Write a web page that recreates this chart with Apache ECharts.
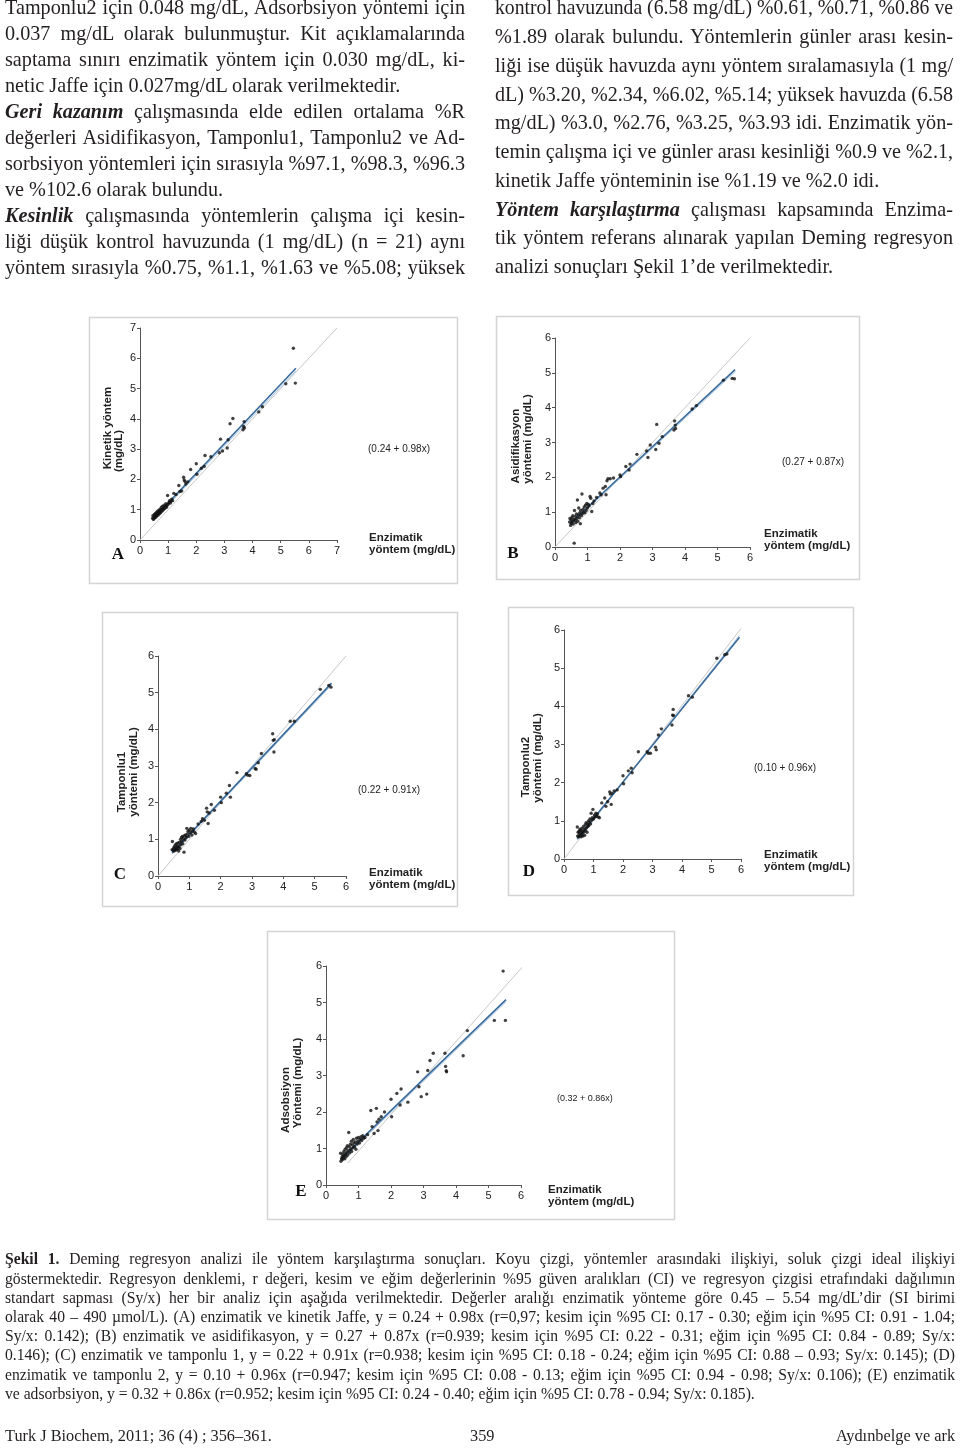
<!DOCTYPE html>
<html><head><meta charset="utf-8">
<script src="https://cdn.jsdelivr.net/npm/echarts@6/dist/echarts.min.js"></script>
<style>
html,body{margin:0;padding:0;background:#fff;}
#chart{position:absolute;left:0;top:0;width:960px;height:1448px;}
#txt{position:absolute;left:0;top:0;width:960px;height:1448px;pointer-events:none;}
.ln{position:absolute;white-space:nowrap;font-family:"Liberation Serif","Times New Roman",serif;color:#231f20;transform-origin:0 0;}
</style></head><body>
<div id="chart"></div>
<div id="txt"></div>
<script>
// ---------- DATA ----------
// Enzimatik yöntem (reference, x) values shared by all panels
const enz = [0.45,0.46,0.48,0.50,0.51,0.52,0.54,0.55,0.56,0.58,0.59,0.60,0.62,0.63,0.64,0.66,0.67,0.69,0.70,0.72,0.73,0.75,0.76,0.78,0.79,0.81,0.83,0.84,0.86,0.88,0.90,0.92,0.94,0.96,0.98,1.00,1.03,1.05,1.08,1.10,1.13,1.16,1.20,
  1.28,1.38,1.42,1.48,1.55,1.57,1.60,1.63,1.70,1.80,2.00,2.02,2.18,2.28,2.31,2.52,2.82,2.86,2.93,3.10,3.13,3.20,3.30,3.66,3.68,3.70,3.71,4.22,4.35,5.18,5.45,5.52];
// A: Kinetik yöntem
const kinetik = [0.72,0.80,0.68,0.76,0.84,0.73,0.79,0.88,0.75,0.83,0.92,0.80,0.86,0.95,0.82,0.90,0.98,0.87,0.94,1.02,0.90,0.97,1.08,0.95,1.02,1.12,1.00,1.06,1.15,1.04,1.10,1.20,1.08,1.14,1.47,1.18,1.24,1.30,1.22,1.28,1.35,1.30,1.54,
  1.50,1.80,1.60,1.62,2.07,1.98,1.93,1.85,1.92,2.33,2.52,2.17,2.37,2.43,2.79,2.75,2.88,3.33,2.94,3.04,3.31,3.84,4.01,3.64,3.75,3.91,3.70,4.23,4.40,5.16,6.33,5.18];
// B: Asidifikasyon yöntemi
const asidifikasyon = [0.72,0.82,0.62,0.78,0.68,0.85,0.74,0.90,0.66,0.80,0.11,1.05,0.76,0.88,0.70,0.95,0.82,1.35,0.74,0.92,1.12,0.84,0.98,0.67,1.05,0.90,1.52,0.95,1.08,1.00,1.15,0.98,1.20,1.05,1.25,1.12,1.22,1.18,1.45,1.40,1.02,1.25,1.32,
  1.42,1.55,1.50,1.69,1.74,1.50,1.90,1.96,1.96,1.98,2.07,2.02,2.31,2.21,2.38,2.66,2.76,2.57,2.93,2.80,3.52,2.98,3.17,3.36,3.62,3.50,3.40,3.96,4.06,4.79,4.84,4.83];
// C: Tamponlu1 yöntemi
const tamponlu1 = [0.72,0.94,0.70,0.76,0.68,0.80,0.73,0.85,0.70,0.78,0.88,0.72,0.82,0.75,0.90,0.68,0.80,0.92,0.75,1.00,0.85,1.05,0.95,1.08,0.88,1.02,0.65,1.10,0.98,1.12,1.05,1.30,1.15,1.22,1.08,1.25,1.18,1.30,1.12,1.22,1.28,1.20,1.16,
  1.42,1.49,1.56,1.52,1.85,1.75,1.43,1.72,1.95,1.79,2.15,2.00,2.26,2.47,2.15,2.82,2.79,2.75,2.74,2.93,2.91,3.09,3.34,3.88,3.70,3.38,3.72,4.22,4.22,5.09,5.20,5.15];
// D: Tamponlu2 yöntemi
const tamponlu2 = [0.84,0.60,0.70,0.58,0.72,0.65,0.78,0.62,0.74,0.58,0.68,0.80,0.64,0.72,0.60,0.85,0.70,0.78,0.62,0.90,0.75,0.95,0.82,0.70,0.92,0.85,1.00,0.88,0.96,1.05,0.92,1.20,1.02,1.08,1.30,1.05,1.15,1.10,1.20,1.12,1.18,1.10,1.08,
  1.47,1.60,1.38,1.50,1.76,1.70,1.43,1.72,1.78,1.81,2.18,1.97,2.31,2.38,2.26,2.81,2.81,2.77,2.77,2.93,2.86,3.25,3.41,3.51,3.77,3.92,3.76,4.28,4.24,5.26,5.35,5.37];
// E: Adsorbsiyon yöntemi
const adsorbsiyon = [0.87,0.65,0.72,0.78,0.70,0.85,0.75,0.92,0.80,0.72,0.98,0.85,0.78,1.02,0.90,1.08,0.82,0.95,1.44,1.05,0.88,1.12,0.98,1.20,0.92,1.10,1.02,1.25,1.15,1.05,1.18,0.98,1.28,1.12,1.20,1.30,1.15,1.25,1.32,1.22,1.35,1.28,1.30,
  1.38,2.04,1.60,1.41,2.10,1.73,1.49,1.80,1.87,2.00,2.35,1.87,2.51,2.19,2.63,2.27,3.10,2.69,2.42,2.49,3.14,3.41,3.61,3.61,3.25,3.13,3.10,3.54,4.23,4.51,5.86,4.51];
// Deming regression lines (dark), CI lines (light) and ideal lines (grey)
const regA = [[0.45,0.68],[5.54,5.67]], ciA = [[0.45,0.62],[5.54,5.58]], idealA = [[0,0],[7,7]];
const regB = [[0.45,0.66],[5.54,5.09]], ciB = [[0.45,0.63],[5.54,5.03]], idealB = [[0,0],[6,6]];
const regC = [[0.45,0.63],[5.54,5.26]], ciC = [[0.45,0.60],[5.54,5.21]], idealC = [[0,0],[6,6]];
const regD = [[0.45,0.53],[5.95,5.81]], ciD = [[0.45,0.50],[5.95,5.86]], idealD = [[0,0],[6,6.04]];
const regE = [[0.45,0.71],[5.54,5.08]], ciE = [[0.45,0.66],[5.54,5.02]], idealE = [[0.67,0.6],[6.67,6.6]];
const axisMax = [7,6,6,6,6];
const equations = ['(0.24 + 0.98x)','(0.27 + 0.87x)','(0.22 + 0.91x)','(0.10 + 0.96x)','(0.32 + 0.86x)'];
const panelLetters = ['A','B','C','D','E'];
const yNames = [['Kinetik yöntem','(mg/dL)'],['Asidifikasyon','yöntemi (mg/dL)'],['Tamponlu1','yöntemi (mg/dL)'],['Tamponlu2','yöntemi (mg/dL)'],['Adsobsiyon','Yöntemi (mg/dL)']];
const xName = ['Enzimatik','yöntem (mg/dL)'];

// ---------- LAYOUT ----------
const layout = [
  {grid:{left:140,top:328,width:197,height:212}, box:[89,317,368,266], yn:[[108,428],[119,451]], xn:[369,538], eq:[368,449,10], let:[118,555]},
  {grid:{left:555,top:338,width:195,height:209}, box:[496,316,363,263], yn:[[516,446],[528,439]], xn:[764,534], eq:[782,462,10], let:[513,554]},
  {grid:{left:158,top:656,width:188,height:220}, box:[102,612,355,294], yn:[[122,782],[134,772]], xn:[369,873], eq:[358,790,10], let:[120,875]},
  {grid:{left:564,top:630,width:177,height:229}, box:[508,607,345,288], yn:[[526,767],[538,758]], xn:[764,855], eq:[754,768,10], let:[529,872]},
  {grid:{left:326,top:966,width:195,height:219}, box:[267,931,407,288], yn:[[286,1100],[298,1083]], xn:[548,1190], eq:[557,1099,9], let:[301,1192]}
];
const ys = [kinetik, asidifikasyon, tamponlu1, tamponlu2, adsorbsiyon];
const regs = [regA,regB,regC,regD,regE], cis=[ciA,ciB,ciC,ciD,ciE], ideals=[idealA,idealB,idealC,idealD,idealE];

const SANS = '"Liberation Sans", Arial, sans-serif';
const grids=[], xAxes=[], yAxes=[], series=[], graphics=[];
layout.forEach((L,i)=>{
  grids.push(Object.assign({outerBoundsMode:'none'}, L.grid));
  const ax = {type:'value', gridIndex:i, min:0, max:axisMax[i], interval:1,
    axisLine:{show:true,onZero:false,lineStyle:{color:'#555',width:1}},
    axisTick:{show:true,length:3,lineStyle:{color:'#555'}},
    splitLine:{show:false},
    axisLabel:{fontSize:11,color:'#222',fontFamily:SANS}};
  xAxes.push(Object.assign({}, ax, {axisLabel:Object.assign({},ax.axisLabel,{margin:5})}));
  yAxes.push(Object.assign({}, ax, {axisLabel:Object.assign({},ax.axisLabel,{margin:4})}));
  const common = {xAxisIndex:i, yAxisIndex:i, silent:true, symbol:'none', clip:false};
  series.push(Object.assign({type:'line', data:ideals[i], lineStyle:{color:'#c8c8c8',width:1}, z:1}, common));
  series.push(Object.assign({type:'line', data:cis[i], lineStyle:{color:'#a8c8e6',width:1}, z:2}, common));
  series.push(Object.assign({type:'line', data:regs[i], lineStyle:{color:'#3a6b9b',width:1.6}, z:3}, common));
  series.push({type:'scatter', xAxisIndex:i, yAxisIndex:i, silent:true, z:4,
    data: enz.map((x,k)=>[x, ys[i][k]]), symbol:'circle', symbolSize:3.4, itemStyle:{color:'#111'}});
  const b=L.box;
  graphics.push({type:'rect', shape:{x:b[0]+0.5,y:b[1]+0.5,width:b[2],height:b[3]}, style:{fill:null,stroke:'#d4d4d4',lineWidth:1.5}, silent:true});
  yNames[i].forEach((t,k)=>{
    graphics.push({type:'text', x:L.yn[k][0], y:L.yn[k][1], rotation:Math.PI/2,
      style:{text:t, font:'bold 11.5px '+SANS, fill:'#222', align:'center', verticalAlign:'middle'}});
  });
  xName.forEach((t,k)=>{
    graphics.push({type:'text', x:L.xn[0], y:L.xn[1]+k*12,
      style:{text:t, font:'bold 11.5px '+SANS, fill:'#222', align:'left', verticalAlign:'middle'}});
  });
  graphics.push({type:'text', x:L.eq[0], y:L.eq[1], style:{text:equations[i], font:L.eq[2]+'px '+SANS, fill:'#222', align:'left', verticalAlign:'middle'}});
  graphics.push({type:'text', x:L.let[0], y:L.let[1], style:{text:panelLetters[i], font:'bold 17px "Liberation Serif", serif', fill:'#111', align:'center', verticalAlign:'middle'}});
});

const chart = echarts.init(document.getElementById('chart'), null, {renderer:'canvas'});
chart.setOption({animation:false, backgroundColor:'#fff', grid:grids, xAxis:xAxes, yAxis:yAxes, series:series, graphic:graphics});

// ---------- TEXT ----------
const leftCol = [
 ['Tamponlu2 için 0.048 mg/dL, Adsorbsiyon yöntemi için',1],
 ['0.037 mg/dL olarak bulunmuştur. Kit açıklamalarında',1],
 ['saptama sınırı enzimatik yöntem için 0.030 mg/dL, ki-',1],
 ['netic Jaffe için 0.027mg/dL olarak verilmektedir.',0],
 ['<b><i>Geri kazanım</i></b> çalışmasında elde edilen ortalama %R',1],
 ['değerleri Asidifikasyon, Tamponlu1, Tamponlu2 ve Ad-',1],
 ['sorbsiyon yöntemleri için sırasıyla %97.1, %98.3, %96.3',1],
 ['ve %102.6 olarak bulundu.',0],
 ['<b><i>Kesinlik</i></b> çalışmasında yöntemlerin çalışma içi kesin-',1],
 ['liği düşük kontrol havuzunda (1 mg/dL) (n = 21) aynı',1],
 ['yöntem sırasıyla %0.75, %1.1, %1.63 ve %5.08; yüksek',1]
];
const rightCol = [
 ['kontrol havuzunda (6.58 mg/dL) %0.61, %0.71, %0.86 ve',1],
 ['%1.89 olarak bulundu. Yöntemlerin günler arası kesin-',1],
 ['liği ise düşük havuzda aynı yöntem sıralamasıyla (1 mg/',1],
 ['dL) %3.20, %2.34, %6.02, %5.14; yüksek havuzda (6.58',1],
 ['mg/dL) %3.0, %2.76, %3.25, %3.93 idi. Enzimatik yön-',1],
 ['temin çalışma içi ve günler arası kesinliği %0.9 ve %2.1,',1],
 ['kinetik Jaffe yönteminin ise %1.19 ve %2.0 idi.',0],
 ['<b><i>Yöntem karşılaştırma</i></b> çalışması kapsamında Enzima-',1],
 ['tik yöntem referans alınarak yapılan Deming regresyon',1],
 ['analizi sonuçları Şekil 1’de verilmektedir.',0]
];
const caption = [
 ['<b>Şekil 1.</b> Deming regresyon analizi ile yöntem karşılaştırma sonuçları. Koyu çizgi, yöntemler arasındaki ilişkiyi, soluk çizgi ideal ilişkiyi',1],
 ['göstermektedir. Regresyon denklemi, r değeri, kesim ve eğim değerlerinin %95 güven aralıkları (CI) ve regresyon çizgisi etrafındaki dağılımın',1],
 ['standart sapması (Sy/x) her bir analiz için aşağıda verilmektedir. Değerler aralığı enzimatik yönteme göre 0.45 – 5.54 mg/dL’dir (SI birimi',1],
 ['olarak 40 – 490 µmol/L). (A) enzimatik ve kinetik Jaffe, y = 0.24 + 0.98x (r=0,97; kesim için %95 CI: 0.17 - 0.30; eğim için %95 CI: 0.91 - 1.04;',1],
 ['Sy/x: 0.142); (B) enzimatik ve asidifikasyon, y = 0.27 + 0.87x (r=0.939; kesim için %95 CI: 0.22 - 0.31; eğim için %95 CI: 0.84 - 0.89; Sy/x:',1],
 ['0.146); (C) enzimatik ve tamponlu 1, y = 0.22 + 0.91x (r=0.938; kesim için %95 CI: 0.18 - 0.24; eğim için %95 CI: 0.88 – 0.93; Sy/x: 0.145); (D)',1],
 ['enzimatik ve tamponlu 2, y = 0.10 + 0.96x (r=0.947; kesim için %95 CI: 0.08 - 0.13; eğim için %95 CI: 0.94 - 0.98; Sy/x: 0.106); (E) enzimatik',1],
 ['ve adsorbsiyon, y = 0.32 + 0.86x (r=0.952; kesim için %95 CI: 0.24 - 0.40; eğim için %95 CI: 0.78 - 0.94; Sy/x: 0.185).',0]
];
const footer = [
 ['Turk J Biochem, 2011; 36 (4) ; 356–361.', 'left', 5],
 ['359', 'center', 482],
 ['Aydınbelge ve ark', 'right', 955]
];

const txt = document.getElementById('txt');
function makeLine(html, x, cy, fs){
  const d=document.createElement('div');
  d.className='ln';
  d.style.fontSize=fs+'px';
  d.style.lineHeight=fs+'px';
  d.innerHTML=html;
  txt.appendChild(d);
  d.style.left=x+'px';
  d.style.top=(cy - fs*0.5 - fs*0.12)+'px';
  return d;
}
function block(lines, o){
  lines.forEach((ln,i)=>{
    const d=makeLine(ln[0], o.x, o.c0+o.step*i, o.fs);
    let sx=o.sx, w=d.getBoundingClientRect().width;
    const Wv=o.w/sx;
    if(w>Wv){ sx=o.w/w; }
    else if(ln[1]){
      const n=(d.textContent.match(/ /g)||[]).length;
      if(n) d.style.wordSpacing=((Wv-w)/n)+'px';
    }
    d.style.transform='scaleX('+sx+')';
  });
}
block(leftCol,{x:5,w:460,c0:10,step:26,fs:20.2,sx:1});
block(rightCol,{x:495,w:458,c0:10,step:28.75,fs:20.2,sx:1});
block(caption,{x:5,w:950,c0:1261,step:19.2,fs:17,sx:0.92});
footer.forEach(f=>{
  const d=makeLine(f[0],0,1438,17);
  const sx=0.96, w=d.getBoundingClientRect().width*sx;
  const left = f[1]==='left'?f[2]:(f[1]==='right'?f[2]-w:f[2]-w/2);
  d.style.left=left+'px';
  d.style.transform='scaleX('+sx+')';
});
</script>
</body></html>
